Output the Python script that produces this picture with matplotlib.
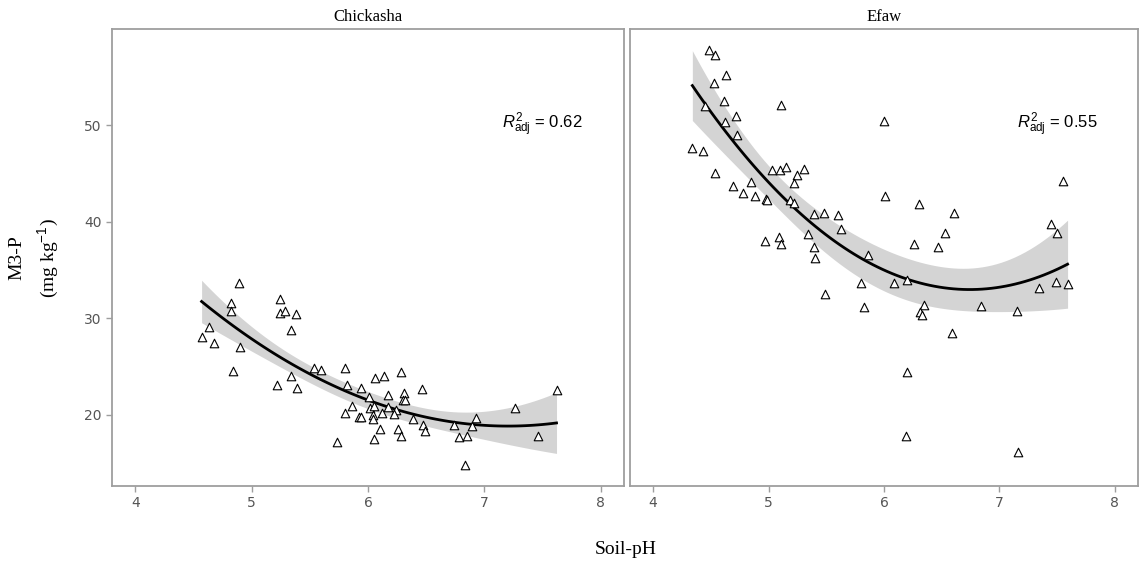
import matplotlib
matplotlib.use("Agg")
import matplotlib.pyplot as plt
import numpy as np

plt.rcParams["mathtext.fontset"] = "custom"
plt.rcParams["mathtext.rm"] = "Liberation Sans"
plt.rcParams["mathtext.it"] = "Liberation Sans:italic"

# Chickasha site: soil pH vs M3-P
chick_ph = [4.89, 4.82, 4.82, 4.63, 4.57, 4.68, 4.90, 4.84, 5.24, 5.24, 5.29, 5.38,
            5.34, 5.22, 5.34, 5.39, 5.54, 5.60, 5.80, 5.82, 5.94, 5.86, 5.80, 5.92,
            5.94, 5.73, 6.06, 6.14, 6.28, 6.46, 6.01, 6.17, 6.31, 6.30, 6.32, 6.02,
            6.05, 6.17, 6.24, 6.12, 6.22, 6.04, 6.04, 6.39, 6.47, 6.49, 6.10, 6.26,
            6.28, 6.05, 6.74, 6.78, 6.85, 6.89, 6.93, 6.83, 7.26, 7.46, 7.62]
chick_p = [33.7, 31.6, 30.8, 29.1, 28.1, 27.4, 27.0, 24.6, 32.0, 30.6, 30.8, 30.5,
           28.8, 23.1, 24.0, 22.8, 24.9, 24.7, 24.9, 23.1, 22.8, 20.9, 20.2, 19.8,
           19.8, 17.25, 23.8, 24.0, 24.5, 22.7, 21.9, 22.1, 22.3, 21.6, 21.5, 20.7,
           20.9, 20.8, 20.5, 20.2, 20.1, 20.0, 19.6, 19.6, 19.0, 18.3, 18.5, 18.5,
           17.8, 17.5, 19.0, 17.7, 17.8, 18.9, 19.7, 14.8, 20.7, 17.8, 22.6]

# Efaw site
efaw_ph = [4.34, 4.43, 4.45, 4.48, 4.54, 4.53, 4.63, 4.61, 4.54, 4.62, 4.72, 4.73,
           4.69, 4.78, 4.85, 4.88, 4.98, 4.99, 5.03, 5.10, 5.15, 5.11, 5.25, 5.31,
           5.22, 5.19, 5.22, 5.39, 5.48, 5.60, 5.63, 4.97, 5.09, 5.11, 5.34, 5.39,
           5.40, 5.49, 5.86, 5.80, 5.83, 6.00, 6.01, 6.09, 6.20, 6.30, 6.26, 6.47,
           6.53, 6.61, 6.35, 6.31, 6.33, 6.59, 6.20, 6.19, 6.84, 7.15, 7.16, 7.34,
           7.45, 7.50, 7.49, 7.59, 7.55]
efaw_p = [47.6, 47.3, 52.0, 57.8, 57.3, 54.4, 55.2, 52.5, 45.0, 50.3, 50.9, 49.0,
          43.7, 43.0, 44.1, 42.7, 42.4, 42.2, 45.4, 45.4, 45.7, 52.1, 44.8, 45.5,
          44.0, 42.2, 41.9, 40.8, 40.9, 40.7, 39.3, 38.0, 38.4, 37.7, 38.7, 37.4,
          36.3, 32.5, 36.6, 33.7, 31.2, 50.4, 42.7, 33.7, 34.0, 41.8, 37.7, 37.4,
          38.8, 40.9, 31.4, 30.7, 30.4, 28.5, 24.5, 17.8, 31.3, 30.8, 16.2, 33.1,
          39.8, 38.8, 33.8, 33.6, 44.2]

sites = ["Chickasha", "Efaw"]
r2_labels = ["0.62", "0.55"]
x_ticks = [4, 5, 6, 7, 8]
y_ticks = [20, 30, 40, 50]


def quad_fit(x, y, t=2.0):
    # second order polynomial fit with a 95% confidence band
    x = np.asarray(x)
    y = np.asarray(y)
    X = np.column_stack([np.ones_like(x), x, x ** 2])
    beta, *_ = np.linalg.lstsq(X, y, rcond=None)
    resid = y - X @ beta
    s2 = resid @ resid / (len(x) - 3)
    cov = s2 * np.linalg.inv(X.T @ X)
    xs = np.linspace(x.min(), x.max(), 80)
    Xs = np.column_stack([np.ones_like(xs), xs, xs ** 2])
    fit = Xs @ beta
    se = np.sqrt(np.einsum("ij,jk,ik->i", Xs, cov, Xs))
    return xs, fit, fit - t * se, fit + t * se


W, H = 1141, 563
fig = plt.figure(figsize=(W / 100, H / 100), dpi=100)
ax1 = fig.add_axes([112 / W, (H - 486) / H, (624 - 112) / W, (486 - 29) / H])
ax2 = fig.add_axes([630 / W, (H - 486) / H, (1138 - 630) / W, (486 - 29) / H])

grey = "#9e9e9e"
tick_col = "#555555"

for ax, name, xd, yd, r2 in zip([ax1, ax2], sites, [chick_ph, efaw_ph],
                                [chick_p, efaw_p], r2_labels):
    xs, fit, lo, hi = quad_fit(xd, yd)
    ax.fill_between(xs, lo, hi, color="#d4d4d4", lw=0, zorder=1)
    ax.plot(xs, fit, color="black", lw=2, zorder=2)
    ax.scatter(xd, yd, marker="^", s=38, facecolor="white", edgecolor="black",
               linewidths=0.8, zorder=3)
    ax.set_xlim(3.8, 8.2)
    ax.set_ylim(12.65, 59.95)
    ax.set_xticks(x_ticks)
    ax.set_yticks(y_ticks)
    for sp in ax.spines.values():
        sp.set_color(grey)
        sp.set_linewidth(1.3)
    ax.tick_params(colors=grey, labelcolor=tick_col, labelsize=10, length=4,
                   width=1)
    ax.set_title(name, fontfamily="Liberation Serif", fontsize=12, pad=6)
    ax.text(7.5, 50, r"$R^2_{\mathrm{adj}}$ = " + r2, ha="center", va="center",
            fontsize=12, fontfamily="Liberation Sans")

ax2.tick_params(axis="y", left=False, labelleft=False)

fig.text(626 / W, 1 - 549 / H, "Soil-pH", ha="center", va="center",
         fontfamily="Liberation Serif", fontsize=14)
fig.text(35 / W, 1 - 258 / H, "M3-P\n(mg kg$^{-1}$)", ha="center", va="center",
         rotation=90, fontfamily="Liberation Serif", fontsize=14, linespacing=1.6)

fig.savefig("out.png", dpi=100)
